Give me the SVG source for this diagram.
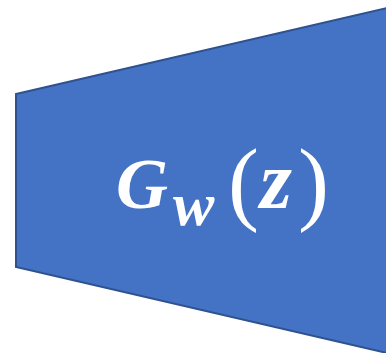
<svg xmlns="http://www.w3.org/2000/svg" width="386" height="353" viewBox="0 0 386 353">
<style>
.shape{fill:#4472C4;stroke:#2F528F;stroke-width:2}
.t{fill:#fff;font-family:"Liberation Serif",serif;font-weight:bold}
.i{font-style:italic}
.p{font-weight:normal}
</style>
<g id="generator">
<polygon class="shape" points="16,94 387,8 387,353 16,267"/>
<text class="t i" x="116" y="208" font-size="72">G</text>
<text class="t i" x="173" y="225" font-size="62">w</text>
<text class="t p" x="228" y="213" font-size="93">(</text>
<text class="t i" x="260" y="208" font-size="82">z</text>
<text class="t p" x="298" y="213" font-size="93">)</text>
</g>
</svg>
